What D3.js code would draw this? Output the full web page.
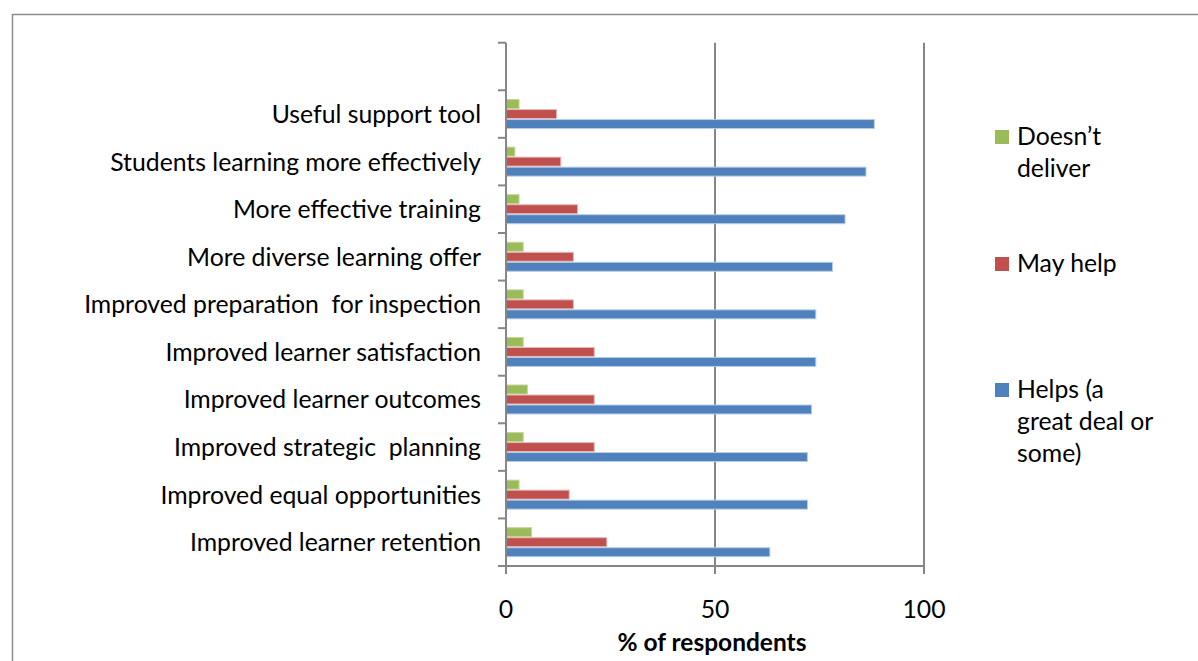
<!DOCTYPE html>
<html>
<head>
<meta charset="utf-8">
<script src="https://cdn.jsdelivr.net/npm/d3@7"></script>
<style>
  body { margin: 0; background: #fff; }
  text { font-family: Lato, "Open Sans", sans-serif; fill: #000; }
</style>
</head>
<body>
<svg id="chart" width="1198" height="661"></svg>
<script>
// categories, top to bottom (the first slot of the chart is empty)
const categories = [
  'Useful support tool',
  'Students learning more effectively',
  'More effective training',
  'More diverse learning offer',
  'Improved preparation  for inspection',
  'Improved learner satisfaction',
  'Improved learner outcomes',
  'Improved strategic  planning',
  'Improved equal opportunities',
  'Improved learner retention'
];
const doesntDeliver = [3, 2, 3, 4, 4, 4, 5, 4, 3, 6];
const mayHelp = [12, 13, 17, 16, 16, 21, 21, 21, 15, 24];
const helps = [88, 86, 81, 78, 74, 74, 73, 72, 72, 63];
const xTicks = [0, 50, 100];

const series = [
  { key: 'doesnt', name: ["Doesn\u2019t", 'deliver'], values: doesntDeliver, color: '#9BBB59', edge: '#C3D69B' },
  { key: 'may', name: ['May help'], values: mayHelp, color: '#C0504D', edge: '#E6B9B8' },
  { key: 'helps', name: ['Helps (a', 'great deal or', 'some)'], values: helps, color: '#4F81BD', edge: '#B9CDE5' }
];

const svg = d3.select('#chart');

// outer frame
svg.append('rect')
  .attr('x', 12.5).attr('y', 14.5)
  .attr('width', 1300).attr('height', 800)
  .attr('fill', 'none').attr('stroke', '#8c8c8c').attr('stroke-width', 1.5);

const x = d3.scaleLinear().domain([0, 100]).range([506, 924]);
const y = d3.scaleBand().domain([''].concat(categories)).range([42.7, 566]);
const ySub = d3.scaleBand().domain(series.map(s => s.key))
  .range([0, y.bandwidth()]).paddingOuter(0.88);

// gridlines
svg.append('g').selectAll('line')
  .data(xTicks.filter(d => d > 0))
  .join('line')
  .attr('x1', d => x(d)).attr('x2', d => x(d))
  .attr('y1', y.range()[0]).attr('y2', y.range()[1])
  .attr('stroke', '#868686').attr('stroke-width', 2);

// bars
const rows = svg.append('g').selectAll('g')
  .data(categories)
  .join('g')
  .attr('transform', d => `translate(0,${y(d)})`);

rows.selectAll('rect')
  .data((d, i) => series.map(s => ({ s, v: s.values[i] })))
  .join('rect')
  .attr('x', x(0) + 0.5)
  .attr('y', d => ySub(d.s.key) + 0.5)
  .attr('width', d => x(d.v) - x(0))
  .attr('height', ySub.bandwidth() - 1)
  .attr('fill', d => d.s.color)
  .attr('stroke', d => d.s.edge)
  .attr('stroke-width', 1);

// y axis with ticks at band boundaries
const bounds = y.domain().map(d => y(d)).concat([y.range()[1]]);
const yAxis = svg.append('g');
yAxis.append('line')
  .attr('x1', x(0)).attr('x2', x(0))
  .attr('y1', y.range()[0]).attr('y2', y.range()[1])
  .attr('stroke', '#868686').attr('stroke-width', 2);
yAxis.selectAll('line.tick')
  .data(bounds)
  .join('line').attr('class', 'tick')
  .attr('x1', x(0) - 8).attr('x2', x(0))
  .attr('y1', d => d).attr('y2', d => d)
  .attr('stroke', '#868686').attr('stroke-width', 2);

// category labels
const labels = svg.append('g').selectAll('text')
  .data(categories)
  .join('text')
  .attr('x', 481)
  .attr('y', d => y(d) + y.bandwidth() / 2 + 9)
  .attr('text-anchor', 'end')
  .style('font-size', '20px')
  .style('white-space', 'pre')
  .text(d => d);

// fit label font so the longest one spans like the reference
const w = labels.filter((d, i) => i === 1).node().getComputedTextLength();
const fs = 20 * 371 / w;
labels.style('font-size', fs + 'px');

// x axis
const xAxis = svg.append('g');
xAxis.append('line')
  .attr('x1', x(0)).attr('x2', x(100))
  .attr('y1', y.range()[1]).attr('y2', y.range()[1])
  .attr('stroke', '#868686').attr('stroke-width', 2);
xAxis.selectAll('line.tick')
  .data(xTicks)
  .join('line').attr('class', 'tick')
  .attr('x1', d => x(d)).attr('x2', d => x(d))
  .attr('y1', y.range()[1]).attr('y2', y.range()[1] + 8)
  .attr('stroke', '#868686').attr('stroke-width', 2);
xAxis.selectAll('text')
  .data(xTicks)
  .join('text')
  .attr('x', d => x(d)).attr('y', 618)
  .attr('text-anchor', 'middle')
  .style('font-size', fs + 'px')
  .text(d => d);

const title = svg.append('text')
  .attr('x', 712).attr('y', 651)
  .attr('text-anchor', 'middle')
  .style('font-size', '20px').style('font-weight', 'bold')
  .text('% of respondents');
const tw = title.node().getComputedTextLength();
title.style('font-size', (20 * 189 / tw) + 'px');

// legend
const legendY = [130, 257, 383];
const leg = svg.append('g').selectAll('g')
  .data(series)
  .join('g')
  .attr('transform', (d, i) => `translate(995,${legendY[i]})`);
leg.append('rect')
  .attr('width', 14).attr('height', 14)
  .attr('fill', d => d.color);
leg.selectAll('text')
  .data(d => d.name)
  .join('text')
  .attr('x', 22)
  .attr('y', (d, i) => 15 + i * 32)
  .style('font-size', fs + 'px')
  .text(d => d);
</script>
</body>
</html>
